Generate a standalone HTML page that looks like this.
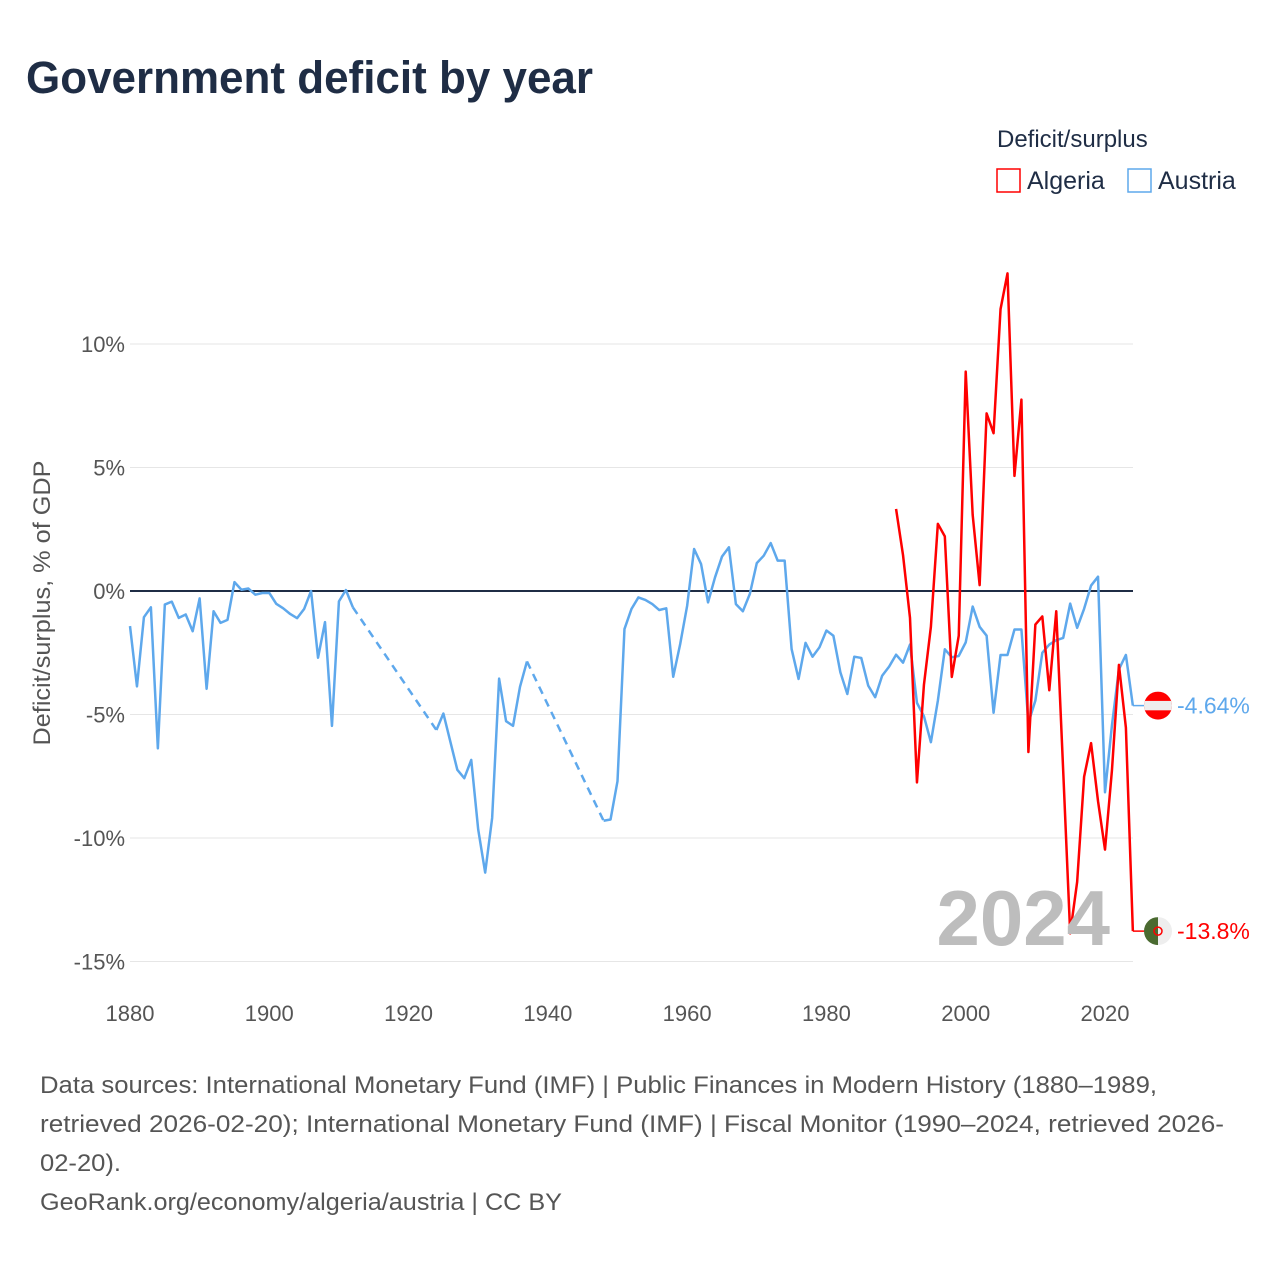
<!DOCTYPE html>
<html><head><meta charset="utf-8"><style>
body{margin:0;background:#fff;width:1280px;height:1280px;overflow:hidden;font-family:"Liberation Sans",sans-serif;}
</style></head><body>
<svg id="chart" width="1280" height="1280" xmlns="http://www.w3.org/2000/svg" font-family="Liberation Sans, sans-serif">
<text x="26" y="93" font-size="45" font-weight="bold" fill="#1f2d45" textLength="567" lengthAdjust="spacingAndGlyphs">Government deficit by year</text>
<text x="997" y="147" font-size="24" fill="#1f2d45">Deficit/surplus</text>
<g><rect x="997" y="169" width="23" height="23" fill="none" stroke="#ff0000" stroke-width="1.5"/><text x="1027" y="189" font-size="25" fill="#1f2d45">Algeria</text></g>
<g><rect x="1128" y="169" width="23" height="23" fill="none" stroke="#5ea8ec" stroke-width="1.5"/><text x="1158" y="189" font-size="25" fill="#1f2d45">Austria</text></g>
<text transform="translate(50,603) rotate(-90)" text-anchor="middle" font-size="24" fill="#555" textLength="285" lengthAdjust="spacingAndGlyphs">Deficit/surplus, % of GDP</text>
<g id="grid"></g><g id="series"></g>
<text x="1110" y="945" text-anchor="end" font-size="78" font-weight="bold" fill="#bdbdbd">2024</text>
<g id="ends"></g>
<g font-size="24" fill="#555">
<text x="40" y="1093" textLength="1117" lengthAdjust="spacingAndGlyphs">Data sources: International Monetary Fund (IMF) | Public Finances in Modern History (1880–1989,</text>
<text x="40" y="1132" textLength="1184" lengthAdjust="spacingAndGlyphs">retrieved 2026-02-20); International Monetary Fund (IMF) | Fiscal Monitor (1990–2024, retrieved 2026-</text>
<text x="40" y="1171" textLength="81" lengthAdjust="spacingAndGlyphs">02-20).</text>
<text x="40" y="1210" textLength="522" lengthAdjust="spacingAndGlyphs">GeoRank.org/economy/algeria/austria | CC BY</text>
</g>
</svg>
<script>
const yTicks=[10,5,0,-5,-10,-15];
const yTickLabels=["10%","5%","0%","-5%","-10%","-15%"];
const xTicks=[1880,1900,1920,1940,1960,1980,2000,2020];
const austriaStart=1880;
const austriaValues=[-1.42,-3.86,-1.06,-0.66,-6.37,-0.55,-0.43,-1.09,-0.95,-1.63,-0.30,-3.96,-0.82,-1.29,-1.17,0.36,0.05,0.10,-0.15,-0.08,-0.08,-0.52,-0.70,-0.93,-1.10,-0.73,0.00,-2.70,-1.26,-5.46,-0.42,0.04,-0.66,
null,null,null,null,null,null,null,null,null,null,null,
-5.63,-4.96,-6.1,-7.24,-7.58,-6.84,-9.66,-11.4,-9.19,-3.55,-5.27,-5.46,-3.88,-2.85,
null,null,null,null,null,null,null,null,null,null,
-9.3,-9.25,-7.7,-1.54,-0.73,-0.26,-0.36,-0.53,-0.77,-0.70,-3.47,-2.15,-0.60,1.70,1.09,-0.46,0.55,1.39,1.77,-0.53,-0.82,-0.12,1.13,1.43,1.94,1.23,1.23,-2.35,-3.56,-2.10,-2.66,-2.28,-1.60,-1.81,-3.29,-4.17,-2.66,-2.71,-3.83,-4.30,-3.43,-3.06,
-2.58,-2.90,-2.17,-4.53,-5.07,-6.12,-4.44,-2.36,-2.68,-2.63,-2.08,-0.63,-1.45,-1.81,-4.93,-2.59,-2.59,-1.56,-1.56,-5.34,-4.44,-2.50,-2.17,-1.99,-1.90,-0.51,-1.49,-0.72,0.22,0.58,-8.15,-5.43,-3.17,-2.59,-4.64];
const algeriaStart=1990;
const algeriaValues=[3.32,1.45,-1.09,-7.75,-3.8,-1.45,2.72,2.21,-3.48,-1.81,8.88,3.08,0.24,7.19,6.39,11.41,12.86,4.66,7.75,-6.52,-1.36,-1.03,-4.02,-0.82,-7.3,-13.86,-11.78,-7.52,-6.16,-8.51,-10.47,-7.25,-2.99,-5.53,-13.77];
const NS="http://www.w3.org/2000/svg";
const X=yr=>130+(yr-1880)*975/140;
const Y=v=>591-v*24.7;
function mk(tag,attrs,parent){const e=document.createElementNS(NS,tag);for(const k in attrs)e.setAttribute(k,attrs[k]);parent.appendChild(e);return e;}
const grid=document.getElementById('grid');
yTicks.forEach((t,i)=>{
 const l=mk('line',{x1:130,x2:1133,y1:Y(t),y2:Y(t),stroke:t===0?'#1f2d45':'#e6e6e6','stroke-width':t===0?2:1},grid);
 
 
 const tx=mk('text',{x:125,y:Y(t)+8,'text-anchor':'end','font-size':22,fill:'#555'},grid);
 tx.textContent=yTickLabels[i];
 
 
});
xTicks.forEach(t=>{
 const tx=mk('text',{x:X(t),y:1021,'text-anchor':'middle','font-size':22,fill:'#555'},grid);
 tx.textContent=t;
 
 
});
const ser=document.getElementById('series');
function drawSeries(start,vals,color,name){
 const g=mk('g',{},ser);
 
 
 let seg=[],prev=null;
 const flush=()=>{if(seg.length>1)mk('polyline',{points:seg.join(' '),fill:'none',stroke:color,'stroke-width':2.5,'stroke-linejoin':'round'},g);seg=[];};
 vals.forEach((v,i)=>{
  const yr=start+i;
  if(v===null){flush();return;}
  if(prev&&prev.yr!==yr-1){mk('line',{x1:X(prev.yr),y1:Y(prev.v),x2:X(yr),y2:Y(v),stroke:color,'stroke-width':2.5,'stroke-dasharray':'8,6'},g);}
  seg.push(X(yr)+','+Y(v));prev={yr,v};
 });
 flush();
 mk('line',{x1:X(prev.yr),y1:Y(prev.v),x2:1148,y2:Y(prev.v),stroke:color,'stroke-width':1.5},g);
 return prev.v;
}
const aLast=drawSeries(austriaStart,austriaValues,'#5ea8ec','austria');
const gLast=drawSeries(algeriaStart,algeriaValues,'#ff0000','algeria');
const ends=document.getElementById('ends');
const af=mk('g',{},ends);


const ay=Y(aLast);
mk('clipPath',{id:'ca'},af);
mk('circle',{cx:1158,cy:ay,r:14},document.getElementById('ca'));
mk('rect',{x:1144,y:ay-14,width:28,height:28,fill:'#ff0000','clip-path':'url(#ca)'},af);
mk('rect',{x:1144,y:ay-4.7,width:28,height:9.4,fill:'#eee','clip-path':'url(#ca)'},af);
const al=mk('text',{x:1177,y:ay+8,'font-size':23,fill:'#5ea8ec'},ends);
al.textContent=aLast.toFixed(2)+'%';


const gf=mk('g',{},ends);


const gy=Y(gLast);
mk('clipPath',{id:'cg'},gf);
mk('circle',{cx:1158,cy:gy,r:14},document.getElementById('cg'));
mk('rect',{x:1144,y:gy-14,width:14,height:28,fill:'#4a6a30','clip-path':'url(#cg)'},gf);
mk('rect',{x:1158,y:gy-14,width:14,height:28,fill:'#eee','clip-path':'url(#cg)'},gf);
mk('circle',{cx:1158,cy:gy,r:4,fill:'none',stroke:'#ff0000','stroke-width':1.5},gf);
const gl=mk('text',{x:1177,y:gy+8,'font-size':23,fill:'#ff0000'},ends);
gl.textContent=gLast.toFixed(1)+'%';


</script>
</body></html>
